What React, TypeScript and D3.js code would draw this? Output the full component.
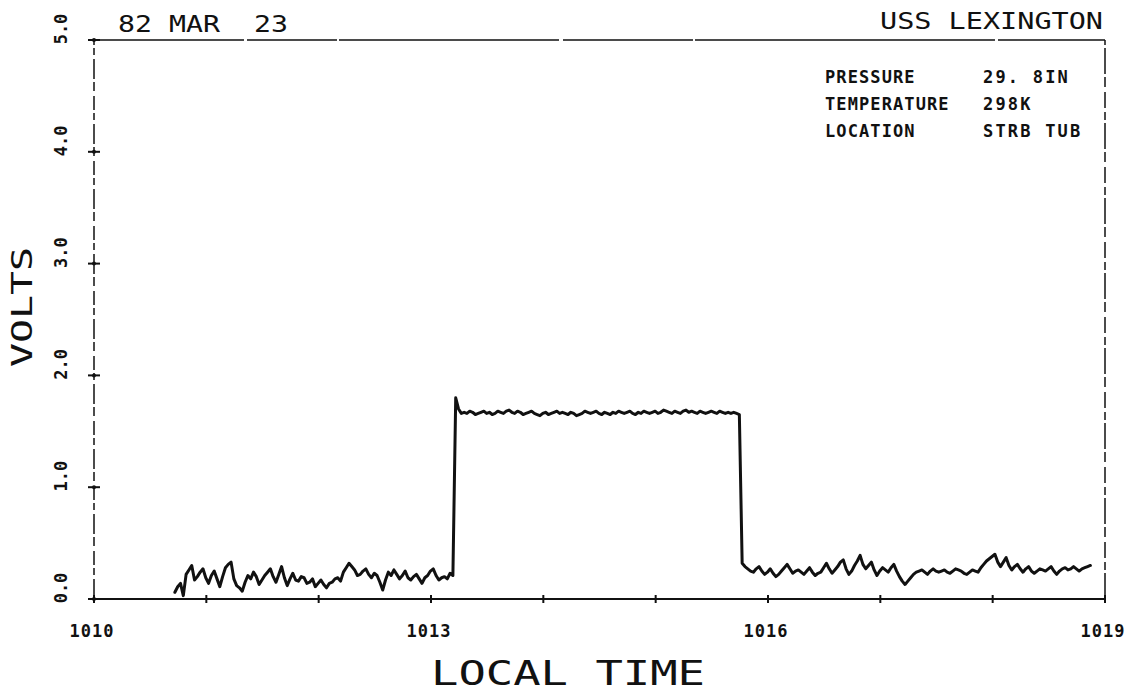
import React from 'react';
import * as d3 from 'd3';

// ---- data ----
const X_DOMAIN: [number, number] = [10, 19]; // minutes after 10:00
const X_TICK_MINUTES = [10, 11, 12, 13, 14, 15, 16, 17, 18, 19];
const X_LABEL_MINUTES = [10, 13, 16, 19];
const Y_TICKS = [0, 1, 2, 3, 4, 5];
const SAMPLE_START = 10.72; // minutes
const SAMPLE_STEP = 0.025; // minutes between samples
const VOLTS_BEFORE = [
  0.06, 0.11, 0.14, 0.03, 0.22, 0.26, 0.30, 0.17, 0.20, 0.24,
  0.27, 0.19, 0.14, 0.21, 0.25, 0.18, 0.11, 0.20, 0.28, 0.31,
  0.33, 0.18, 0.12, 0.10, 0.07, 0.15, 0.21, 0.18, 0.24, 0.20,
  0.13, 0.17, 0.21, 0.24, 0.27, 0.20, 0.15, 0.22, 0.29, 0.19,
  0.12, 0.18, 0.23, 0.17, 0.16, 0.20, 0.19, 0.14, 0.15, 0.18,
  0.11, 0.14, 0.17, 0.13, 0.10, 0.14, 0.15, 0.18, 0.19, 0.16,
  0.24, 0.28, 0.32, 0.29, 0.26, 0.21, 0.22, 0.25, 0.27, 0.22,
  0.19, 0.23, 0.21, 0.15, 0.08, 0.17, 0.24, 0.21, 0.26, 0.22,
  0.18, 0.21, 0.25, 0.19, 0.17, 0.20, 0.22, 0.18, 0.14, 0.19,
  0.21, 0.25, 0.27, 0.21, 0.17, 0.19, 0.20, 0.18, 0.23, 0.21,
];
const VOLTS_PULSE = [
  1.80, 1.70, 1.66, 1.67, 1.66, 1.68, 1.67, 1.65, 1.66, 1.67,
  1.68, 1.66, 1.67, 1.65, 1.66, 1.68, 1.67, 1.66, 1.68, 1.69,
  1.67, 1.66, 1.68, 1.67, 1.65, 1.66, 1.67, 1.68, 1.66, 1.65,
  1.64, 1.66, 1.67, 1.65, 1.66, 1.67, 1.68, 1.66, 1.67, 1.66,
  1.65, 1.67, 1.66, 1.64, 1.65, 1.66, 1.68, 1.67, 1.66, 1.67,
  1.68, 1.66, 1.65, 1.67, 1.66, 1.65, 1.67, 1.66, 1.68, 1.67,
  1.66, 1.67, 1.68, 1.66, 1.65, 1.67, 1.66, 1.68, 1.67, 1.66,
  1.67, 1.68, 1.66, 1.67, 1.69, 1.68, 1.67, 1.66, 1.68, 1.67,
  1.66, 1.68, 1.69, 1.67, 1.68, 1.67, 1.66, 1.68, 1.67, 1.66,
  1.67, 1.68, 1.67, 1.66, 1.68, 1.67, 1.66, 1.67, 1.66, 1.67,
  1.66, 1.65,
];
const VOLTS_AFTER = [
  0.32, 0.29, 0.27, 0.25, 0.24, 0.27, 0.29, 0.25, 0.22, 0.24,
  0.27, 0.23, 0.20, 0.22, 0.25, 0.28, 0.31, 0.27, 0.23, 0.25,
  0.26, 0.24, 0.22, 0.25, 0.28, 0.24, 0.21, 0.23, 0.24, 0.28,
  0.32, 0.27, 0.23, 0.26, 0.29, 0.33, 0.35, 0.27, 0.22, 0.25,
  0.30, 0.34, 0.39, 0.31, 0.27, 0.30, 0.33, 0.26, 0.21, 0.25,
  0.28, 0.26, 0.24, 0.28, 0.31, 0.25, 0.20, 0.16, 0.13, 0.16,
  0.19, 0.22, 0.24, 0.25, 0.26, 0.24, 0.22, 0.25, 0.27, 0.25,
  0.24, 0.25, 0.26, 0.24, 0.23, 0.25, 0.27, 0.26, 0.25, 0.23,
  0.22, 0.24, 0.26, 0.25, 0.24, 0.28, 0.31, 0.34, 0.36, 0.38,
  0.40, 0.33, 0.29, 0.33, 0.37, 0.30, 0.26, 0.29, 0.31, 0.27,
  0.24, 0.27, 0.29, 0.25, 0.23, 0.25, 0.27, 0.26, 0.25, 0.27,
  0.29, 0.25, 0.22, 0.25, 0.27, 0.28, 0.26, 0.27, 0.29, 0.27,
  0.25, 0.27, 0.28, 0.29, 0.30,
];
const TITLE_DATE = '82 MAR  23';
const TITLE_SHIP = 'USS LEXINGTON';
const X_TITLE = 'LOCAL TIME';
const Y_TITLE = 'VOLTS';
const INFO_LABELS = ['PRESSURE', 'TEMPERATURE', 'LOCATION'];
const INFO_VALUES = ['29. 8IN', '298K', 'STRB TUB'];

// ---- layout ----
const W = 1134;
const H = 693;
const LEFT = 94;
const RIGHT = 1105;
const TOP = 40;
const BOTTOM = 599;
const MONO = '"DejaVu Sans Mono", "Liberation Mono", monospace';
const INK = '#111';

export default function App() {
  const x = d3.scaleLinear().domain(X_DOMAIN).range([LEFT, RIGHT]);
  const y = d3.scaleLinear().domain([0, 5]).range([BOTTOM, TOP]);

  const volts = [...VOLTS_BEFORE, ...VOLTS_PULSE, ...VOLTS_AFTER];
  const points = volts.map((v, i) => [SAMPLE_START + i * SAMPLE_STEP, v] as [number, number]);
  const line = d3
    .line<[number, number]>()
    .x((d) => x(d[0]))
    .y((d) => y(d[1]));

  const fmtTime = (m: number) => `10${d3.format('02d')(m)}`;
  const fmtVolt = d3.format('.1f');

  return (
    <svg
      width={W}
      height={H}
      viewBox={`0 0 ${W} ${H}`}
      style={{ position: 'absolute', left: 0, top: 0, background: '#fff' }}
    >
      <rect x={0} y={0} width={W} height={H} fill="#fff" />

      {/* frame */}
      <line x1={x(X_DOMAIN[0])} y1={y(5)} x2={x(X_DOMAIN[1])} y2={y(5)} stroke={INK} strokeWidth={1.6}
        strokeDasharray="150,3,90,2,220,4,130,2,300,3" />
      <line x1={x(X_DOMAIN[0])} y1={y(0)} x2={x(X_DOMAIN[0])} y2={y(5)} stroke={INK} strokeWidth={1.5}
        strokeDasharray="20,4,7,3,14,5,9,3" />
      <line x1={x(X_DOMAIN[1])} y1={y(0)} x2={x(X_DOMAIN[1])} y2={y(5)} stroke={INK} strokeWidth={1.5}
        strokeDasharray="26,3,8,4,16,5,10,3" />
      <line x1={x(X_DOMAIN[0]) - 2} y1={y(0)} x2={x(X_DOMAIN[1])} y2={y(0)} stroke={INK} strokeWidth={2} />

      {/* x ticks */}
      {X_TICK_MINUTES.map((m) => (
        <g key={`xt${m}`}>
          <line x1={x(m)} x2={x(m)} y1={y(0) - 4} y2={y(0) + 4} stroke={INK} strokeWidth={2} />
        </g>
      ))}
      {X_LABEL_MINUTES.map((m) => (
        <text key={`xl${m}`} x={x(m) - 2} y={637} textAnchor="middle" fontFamily={MONO}
          fontWeight="bold" fontSize={17} letterSpacing={1} fill={INK}>
          {fmtTime(m)}
        </text>
      ))}

      {/* y ticks */}
      {Y_TICKS.map((v) => (
        <g key={`yt${v}`}>
          <line x1={x(X_DOMAIN[0]) - 6} x2={x(X_DOMAIN[0]) + 6} y1={y(v)} y2={y(v)} stroke={INK} strokeWidth={2} />
          <circle cx={x(X_DOMAIN[0])} cy={y(v)} r={2} fill={INK} />
          <text transform={`translate(67,${y(v) - 11}) rotate(-90)`} textAnchor="middle" fontFamily={MONO}
            fontWeight="bold" fontSize={17} fill={INK}>
            {fmtVolt(v)}
          </text>
        </g>
      ))}

      {/* data */}
      <path d={line(points) || ''} fill="none" stroke={INK} strokeWidth={3} strokeLinejoin="round" strokeLinecap="round" />

      {/* titles */}
      <text x={118} y={32} fontFamily={MONO} fontSize={23} textLength={170} lengthAdjust="spacingAndGlyphs"
        style={{ whiteSpace: 'pre' }} fill={INK}>
        {TITLE_DATE}
      </text>
      <text x={880} y={29} fontFamily={MONO} fontSize={23} textLength={223} lengthAdjust="spacingAndGlyphs"
        style={{ whiteSpace: 'pre' }} fill={INK}>
        {TITLE_SHIP}
      </text>
      <text x={431} y={685} fontFamily={MONO} fontSize={34} textLength={274} lengthAdjust="spacingAndGlyphs"
        style={{ whiteSpace: 'pre' }} fill={INK}>
        {X_TITLE}
      </text>
      <text transform="translate(32,307) rotate(-90)" textAnchor="middle" fontFamily={MONO} fontSize={28}
        textLength={120} lengthAdjust="spacingAndGlyphs" fill={INK}>
        {Y_TITLE}
      </text>

      {/* info block */}
      {INFO_LABELS.map((lab, i) => (
        <g key={`info${i}`}>
          <text x={825} y={83 + i * 27} fontFamily={MONO} fontWeight="bold" fontSize={17} letterSpacing={1.1}
            style={{ whiteSpace: 'pre' }} fill={INK}>
            {lab}
          </text>
          <text x={983} y={83 + i * 27} fontFamily={MONO} fontWeight="bold" fontSize={17} letterSpacing={2.2}
            style={{ whiteSpace: 'pre' }} fill={INK}>
            {INFO_VALUES[i]}
          </text>
        </g>
      ))}
    </svg>
  );
}
